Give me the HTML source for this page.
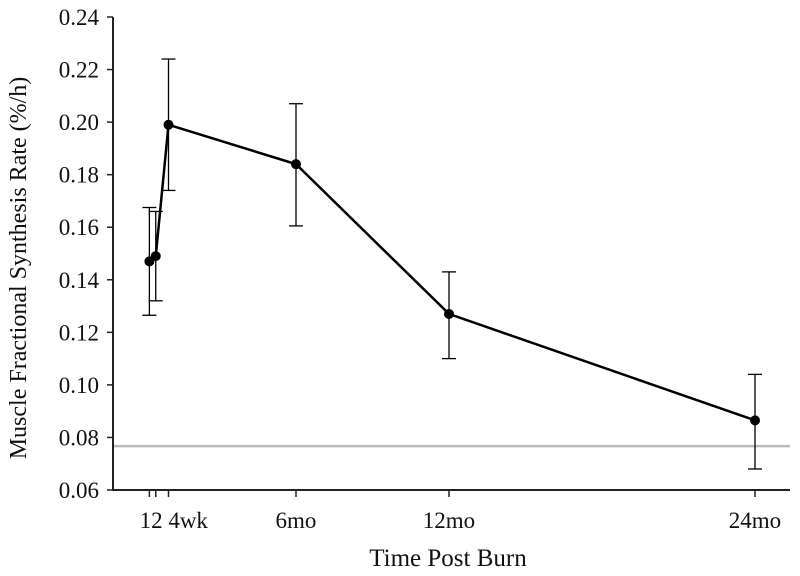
<!DOCTYPE html>
<html><head><meta charset="utf-8"><style>
body{margin:0;background:#fff}
svg{display:block;font-family:"Liberation Serif",serif}
</style></head><body>
<svg id="chart" width="800" height="576" viewBox="0 0 800 576" xmlns="http://www.w3.org/2000/svg"></svg>
<script>
const xMonths=[0.25,0.5,1,6,12,24];
const means=[0.147,0.149,0.199,0.184,0.127,0.0865];
const lows=[0.1265,0.132,0.174,0.1605,0.110,0.068];
const highs=[0.1675,0.166,0.224,0.207,0.143,0.104];
const yTicks=[0.06,0.08,0.10,0.12,0.14,0.16,0.18,0.20,0.22,0.24];
const xTickMonths=[0.25,0.5,1,6,12,24];
const xTickLabels=[{t:"12 4wk",m:0.5},{t:"6mo",m:6},{t:"12mo",m:12},{t:"24mo",m:24}];
const baseline=0.0767;

const NS="http://www.w3.org/2000/svg";
const svg=document.getElementById('chart');
const X=m=>143+25.5*m;
const Y=v=>490-(v-0.06)/0.18*473;
function el(tag,attrs,parent){const e=document.createElementNS(NS,tag);for(const k in attrs)e.setAttribute(k,attrs[k]);(parent||svg).appendChild(e);return e;}

let e;
e=el('line',{x1:113,y1:Y(baseline),x2:790,y2:Y(baseline),stroke:'#bbb','stroke-width':2.5});


e=el('line',{x1:113,y1:17,x2:113,y2:491,stroke:'#222','stroke-width':2});


e=el('line',{x1:112,y1:490,x2:790,y2:490,stroke:'#222','stroke-width':2});


yTicks.forEach(v=>{
  const t=el('line',{x1:107,y1:Y(v),x2:113,y2:Y(v),stroke:'#222','stroke-width':1.5});
  
  
  const l=el('text',{x:99,y:Y(v)+8,'text-anchor':'end','font-size':23,fill:'#111'});
  l.textContent=v.toFixed(2);
  
  
});
xTickMonths.forEach(m=>{
  const t=el('line',{x1:X(m),y1:490,x2:X(m),y2:497,stroke:'#222','stroke-width':1.5});
  
  
});
xTickLabels.forEach(o=>{
  const l=el('text',{x:X(o.m)+(o.m===0.5?18:0),y:528,'text-anchor':'middle','font-size':23,fill:'#111'});
  l.textContent=o.t;
  
  
});
const line=el('polyline',{points:xMonths.map((m,i)=>X(m)+','+Y(means[i])).join(' '),fill:'none',stroke:'#000','stroke-width':2.5});


xMonths.forEach((m,i)=>{
  const x=X(m);
  const g=el('g',{});
  
  
  el('line',{x1:x,y1:Y(lows[i]),x2:x,y2:Y(highs[i]),stroke:'#000','stroke-width':1.3},g);
  el('line',{x1:x-7,y1:Y(lows[i]),x2:x+7,y2:Y(lows[i]),stroke:'#000','stroke-width':1.3},g);
  el('line',{x1:x-7,y1:Y(highs[i]),x2:x+7,y2:Y(highs[i]),stroke:'#000','stroke-width':1.3},g);
  const c=el('circle',{cx:x,cy:Y(means[i]),r:5,fill:'#000'});
  
  
});
e=el('text',{x:448,y:566,'text-anchor':'middle','font-size':25,fill:'#111'});
e.textContent='Time Post Burn';


e=el('text',{x:0,y:0,'text-anchor':'middle','font-size':24,fill:'#111',transform:'translate(26,268) rotate(-90)'});
e.textContent='Muscle Fractional Synthesis Rate (%/h)';


</script>
</body></html>
